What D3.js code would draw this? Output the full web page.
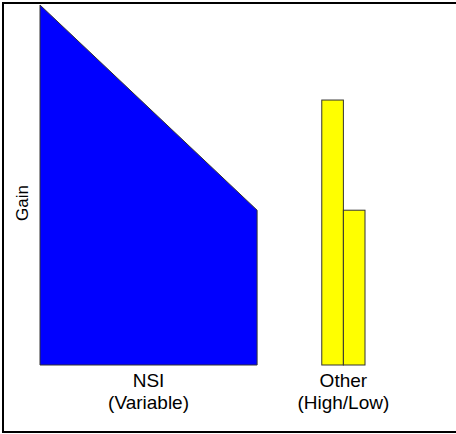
<!DOCTYPE html>
<html>
<head>
<meta charset="utf-8">
<script src="https://cdn.jsdelivr.net/npm/d3@7"></script>
<style>
html,body{margin:0;padding:0;background:#fff;}
svg{display:block;}
text{font-family:"Liberation Sans",Arial,sans-serif;fill:#000;}
</style>
</head>
<body>
<svg id="chart" width="456" height="434"></svg>
<script>
// Data
const categories = ["NSI", "Other"];
const categorySubLabels = ["(Variable)", "(High/Low)"];
const nsiGain = [1.0, 0.43];          // variable gain: start, end
const otherGain = [0.736, 0.43];      // high, low
const yLabel = "Gain";

const svg = d3.select("#chart");

// frame
svg.append("rect").attr("x", 3).attr("y", 3).attr("width", 455).attr("height", 429)
  .attr("fill", "none").attr("stroke", "#000").attr("stroke-width", 2);

const x = d3.scaleLinear().domain([0, 1]).range([40, 365]);
const y = d3.scaleLinear().domain([0, 1]).range([365, 5]);

const nsiX = d3.scaleLinear().domain([0, 1]).range([x(0), x(0.668)]);
const nsiPts = [
  [nsiX(0), y(0)],
  [nsiX(0), y(nsiGain[0])],
  [nsiX(1), y(nsiGain[1])],
  [nsiX(1), y(0)]
];
svg.append("path")
  .attr("d", d3.line()(nsiPts) + "Z")
  .attr("fill", "#0000ff").attr("stroke", "#333").attr("stroke-width", 1);

const band = d3.scaleBand().domain([0, 1]).range([x(0.867), x(1)]).padding(0);
svg.selectAll("rect.other").data(otherGain).join("rect")
  .attr("class", "other")
  .attr("x", (d, i) => band(i))
  .attr("y", d => y(d))
  .attr("width", band.bandwidth())
  .attr("height", d => y(0) - y(d))
  .attr("fill", "#ffff00").attr("stroke", "#333").attr("stroke-width", 1);

// category labels
const centers = [nsiX(0.5), x(0.867) + (x(1) - x(0.867)) / 2];
categories.forEach((c, i) => {
  const t = svg.append("text").attr("text-anchor", "middle")
    .style("font-size", "19px");
  t.append("tspan").attr("x", centers[i]).attr("y", 387).text(c);
  t.append("tspan").attr("x", centers[i]).attr("y", 409).text(categorySubLabels[i]);
});

// y label
svg.append("text")
  .attr("transform", "translate(28,203) rotate(-90)")
  .attr("text-anchor", "middle")
  .style("font-size", "17px")
  .text(yLabel);
</script>
</body>
</html>
